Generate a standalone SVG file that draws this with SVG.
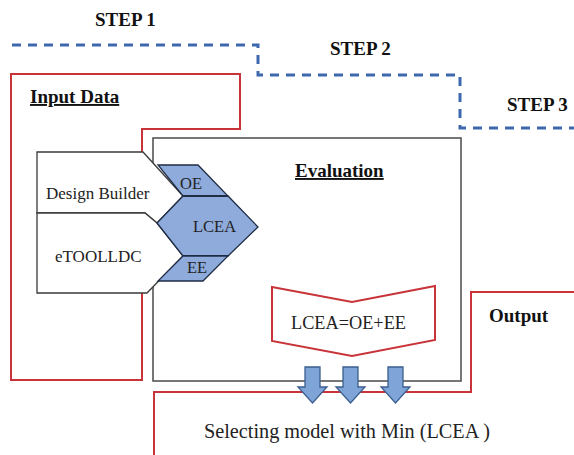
<svg xmlns="http://www.w3.org/2000/svg" width="574" height="455" viewBox="0 0 574 455">
<defs>
<style>
.step{font-family:"Liberation Serif","Times New Roman",serif;font-weight:bold;font-size:19px;fill:#111}
.title{font-family:"Liberation Serif","Times New Roman",serif;font-weight:bold;font-size:19px;fill:#111;text-decoration:underline}
.lbl{font-family:"Liberation Serif","Times New Roman",serif;font-size:16.5px;fill:#222}
.red{fill:none;stroke:#C8343A;stroke-width:2}
.dash{fill:none;stroke:#3E68AE;stroke-width:3;stroke-dasharray:9 7}
.white{fill:#fff;stroke:#3a3a3a;stroke-width:1.3}
.blue{fill:#8EABDC;stroke:#1F2D45;stroke-width:1.3}
.arrow{fill:#7FA4D8;stroke:#3B5E8E;stroke-width:1.3}
</style>
</defs>
<rect width="574" height="455" fill="#fff"/>

<g id="steps">
<path class="dash" d="M12 45 H258 V75 H460 V128 H574"/>
<text class="step" x="95" y="26">STEP 1</text>
<text class="step" x="330" y="55">STEP 2</text>
<text class="step" x="507" y="111">STEP 3</text>
</g>

<g id="input-data">
<path class="red" d="M11 74 H240 V129 H142 V380 H11 Z"/>
<text class="title" x="30" y="103">Input Data</text>
</g>

<g id="evaluation">
<rect x="153" y="138" width="308" height="243" fill="#fff" stroke="#4a4a4a" stroke-width="1.5"/>
<text class="title" x="295" y="177">Evaluation</text>
</g>

<g id="design-builder">
<polygon class="white" points="37,152 143,152 183,196 157,223 145,213 37,213"/>
<text class="lbl" x="46" y="199" style="font-size:17px">Design Builder</text>
</g>

<g id="etoolldc">
<polygon class="white" points="37,213 145,213 157,223 183,256 147,293 37,293"/>
<text class="lbl" x="55" y="262" style="font-size:17px">eTOOLLDC</text>
</g>

<g id="oe">
<polygon class="blue" points="158,165 198,165 228,196 183,196"/>
<text class="lbl" x="180" y="189">OE</text>
</g>

<g id="lcea">
<polygon class="blue" points="183,196 228,196 258,227 228,256 183,256 157,223"/>
<line x1="183" y1="196" x2="228" y2="196" stroke="#1F2D45" stroke-width="2"/>
<line x1="183" y1="256" x2="228" y2="256" stroke="#1F2D45" stroke-width="2"/>
<text class="lbl" x="193" y="232">LCEA</text>
</g>

<g id="ee">
<polygon class="blue" points="183,256 228,256 203,281 158,281"/>
<text class="lbl" x="187" y="273">EE</text>
</g>

<g id="formula">
<polygon fill="#fff" stroke="#C8343A" stroke-width="2" points="272,287 352,302 435,286 435,340 352,356 272,341"/>
<text class="lbl" x="291" y="329" style="font-size:18px" textLength="115" lengthAdjust="spacingAndGlyphs">LCEA=OE+EE</text>
</g>

<g id="output">
<path class="red" d="M154 455 V392 H471 V292 H574"/>
<text class="step" x="489" y="322">Output</text>
<text class="lbl" x="204" y="438" style="font-size:20px" textLength="286" lengthAdjust="spacingAndGlyphs">Selecting model with Min (LCEA )</text>
</g>

<g id="connectors">
<path class="arrow" d="M305 367 H320 V387 H327 L312.5 403 L298 387 H305 Z"/>
<path class="arrow" d="M343 367 H358 V387 H365 L350.5 403 L336 387 H343 Z"/>
<path class="arrow" d="M388 367 H403 V387 H410 L395.5 403 L381 387 H388 Z"/>
</g>
</svg>
